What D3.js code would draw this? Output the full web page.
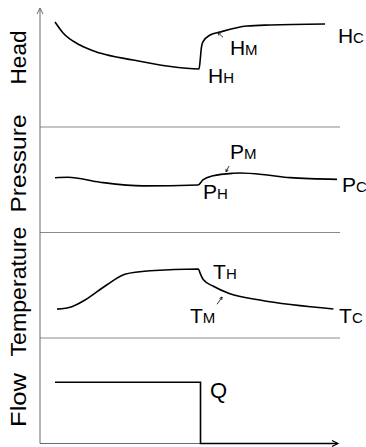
<!DOCTYPE html>
<html>
<head>
<meta charset="utf-8">
<script src="https://cdn.jsdelivr.net/npm/d3@7"></script>
<style>
  body { margin: 0; background: #fff; }
  text { font-family: "Liberation Sans", Arial, sans-serif; fill: #000; }
</style>
</head>
<body>
<svg width="366" height="447"></svg>
<script>
// time (arbitrary units) and the four traces
var panels = ["Head", "Pressure", "Temperature", "Flow"];
var titleMid = [57.5, 163.5, 291.5, 400];
var titleLen = [54, 98, 130, 54];

var headT = [5, 7.7, 13.3, 20, 31, 42.3, 53, 53.4, 53.7, 54.3, 56.7, 60, 69, 76.7, 95];
var headV = [9.95, 8.91, 7.77, 7.01, 6.35, 5.78, 5.5, 6.35, 7.3, 8.06, 8.72, 9.0, 9.57, 9.67, 9.76];

var presT = [5, 9.3, 20, 34.3, 52.7, 54.3, 57.7, 64.3, 66.7, 75.7, 83.3, 99];
var presV = [5.19, 5.23, 4.77, 4.42, 4.5, 4.98, 5.38, 5.61, 5.64, 5.45, 5.2, 5.04];

var tempT = [5.7, 10.6, 15, 22.2, 28.3, 36.7, 52.8, 53.3, 54.4, 57.8, 63.3, 73.3, 97.8];
var tempV = [2.74, 2.97, 3.6, 5.02, 6.05, 6.38, 6.54, 6.2, 5.54, 4.9, 4.2, 3.6, 2.75];

var flowT = [5, 53.5, 53.5, 99];
var flowV = [5.8, 5.8, 0, 0];

var series = [
  { t: headT, v: headV, curve: d3.curveMonotoneX },
  { t: presT, v: presV, curve: d3.curveMonotoneX },
  { t: tempT, v: tempV, curve: d3.curveMonotoneX },
  { t: flowT, v: flowV, curve: d3.curveLinear }
];

// labels: [panel, main, sub, t, v]
var labels = [
  [0, "H", "C", 99.3, 8.0],
  [0, "H", "M", 63.3, 6.8],
  [0, "H", "H", 56, 4.2],
  [1, "P", "M", 63.3, 6.95],
  [1, "P", "H", 54.3, 3.2],
  [1, "P", "C", 100.7, 3.85],
  [2, "T", "H", 57.7, 5.6],
  [2, "T", "M", 50, 1.4],
  [2, "T", "C", 99.7, 1.4],
  [3, "Q", "", 56.7, 4.3]
];

// small pointer arrows [panel, t1, v1, t2, v2]
var pointers = [
  [0, 61, 8.5, 59.3, 8.95],
  [1, 63, 6.3, 62, 5.75],
  [2, 59, 3.2, 60.7, 3.88]
];

var svg = d3.select("svg");
var left = 40, right = 340, top0 = 21.5, bandH = 105.5;

var x = d3.scaleLinear().domain([0, 100]).range([left, right]);

function yScale(i) {
  return d3.scaleLinear().domain([0, 10])
    .range([top0 + (i + 1) * bandH, top0 + i * bandH]);
}

// dividers
for (var i = 1; i < 4; i++) {
  var yy = top0 + i * bandH;
  svg.append("line")
    .attr("x1", left).attr("x2", right)
    .attr("y1", yy).attr("y2", yy)
    .attr("stroke", "#8a8a8a").attr("stroke-width", 1);
}

// axes with open arrow heads
var bottom = top0 + 4 * bandH;
svg.append("line")
  .attr("x1", left).attr("x2", left)
  .attr("y1", bottom).attr("y2", 8)
  .attr("stroke", "#6a6a6a").attr("stroke-width", 1);
svg.append("path")
  .attr("d", "M" + (left - 3) + ",14L" + left + ",8L" + (left + 3) + ",14")
  .attr("fill", "none").attr("stroke", "#6a6a6a");
svg.append("line")
  .attr("x1", left).attr("x2", 338)
  .attr("y1", bottom).attr("y2", bottom)
  .attr("stroke", "#6a6a6a").attr("stroke-width", 1);
svg.append("path")
  .attr("d", "M332," + (bottom - 3) + "L338," + bottom + "L332," + (bottom + 3))
  .attr("fill", "none").attr("stroke", "#000").attr("stroke-width", 1.2);

// y titles
panels.forEach(function(p, i) {
  svg.append("text")
    .attr("transform", "translate(26," + titleMid[i] + ") rotate(-90)")
    .attr("text-anchor", "middle")
    .attr("textLength", titleLen[i])
    .attr("lengthAdjust", "spacingAndGlyphs")
    .style("font-size", "22px")
    .text(p);
});

// traces
series.forEach(function(s, i) {
  var y = yScale(i);
  var pts = s.t.map(function(t, k) { return [t, s.v[k]]; });
  var line = d3.line()
    .x(function(d) { return x(d[0]); })
    .y(function(d) { return y(d[1]); })
    .curve(s.curve);
  svg.append("path")
    .datum(pts)
    .attr("d", line)
    .attr("fill", "none")
    .attr("stroke", "#000")
    .attr("stroke-width", 1.6);
});

// text labels with subscripts
labels.forEach(function(l) {
  var y = yScale(l[0]);
  var txt = svg.append("text")
    .attr("x", x(l[3])).attr("y", y(l[4]))
    .style("font-size", l[2] ? "21px" : "22px")
    .text(l[1]);
  if (l[2]) txt.append("tspan").style("font-size", "15px").text(l[2]);
});

pointers.forEach(function(p) {
  var y = yScale(p[0]);
  var x1 = x(p[1]), y1 = y(p[2]), x2 = x(p[3]), y2 = y(p[4]);
  svg.append("line")
    .attr("x1", x1).attr("y1", y1).attr("x2", x2).attr("y2", y2)
    .attr("stroke", "#000").attr("stroke-width", 0.8);
  var a = Math.atan2(y2 - y1, x2 - x1);
  var h = 3;
  svg.append("path")
    .attr("d", "M" + (x2 - h * Math.cos(a - 0.5)) + "," + (y2 - h * Math.sin(a - 0.5)) +
      "L" + x2 + "," + y2 +
      "L" + (x2 - h * Math.cos(a + 0.5)) + "," + (y2 - h * Math.sin(a + 0.5)))
    .attr("fill", "none").attr("stroke", "#000").attr("stroke-width", 0.8);
});
</script>
</body>
</html>
